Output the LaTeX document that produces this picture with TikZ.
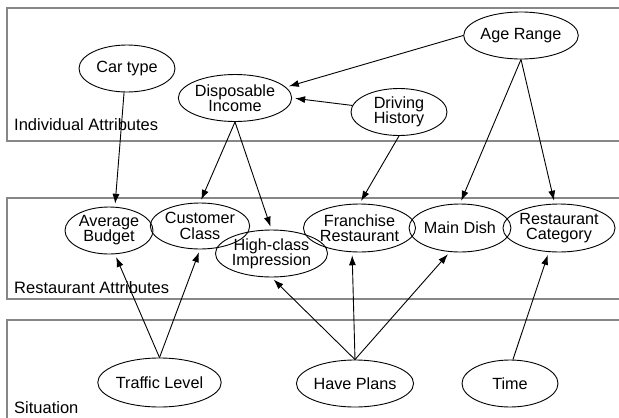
\documentclass[tikz,border=0pt]{standalone}
\usepackage{fontspec}
\setmainfont{Liberation Sans}
\usetikzlibrary{shapes.geometric,arrows.meta}
\begin{document}
\begin{tikzpicture}[x=1pt,y=-1pt,
  panel/.style={draw=black!47,line width=1.8pt},
  var/.style={ellipse,draw=black,line width=0.9pt,inner sep=0pt,align=center,
    minimum width=96pt,minimum height=47pt,font=\fontsize{16.2}{15.2}\selectfont},
  lbl/.style={anchor=west,inner sep=0pt,font=\fontsize{16.5}{15}\selectfont},
  dep/.style={line width=0.9pt,-{Latex[length=10pt,width=7pt]},shorten >=3pt}]
\useasboundingbox (0,0) rectangle (619,418);
\fill[white] (0,0) rectangle (619,418);
% panels
\draw[panel] (7,8) rectangle (630,141);
\draw[panel] (7,198) rectangle (630,299);
\draw[panel] (7,320) rectangle (630,440);
\node[lbl] (lind) at (14,125) {Individual Attributes};
\node[lbl] (lres) at (14,288) {Restaurant Attributes};
\node[lbl] (lsit) at (14,407.5) {Situation};
% individual attributes
\node[var] (cartype) at (127,68.5) {Car type};
\node[var] (dispinc) at (235,98) {Disposable\\Income};
\node[var] (agerange) at (521,35.5) {Age Range};
\node[var] (drivhist) at (399,112) {Driving\\History};
% restaurant attributes
\node[var,minimum width=88pt] (avgbudget) at (109,230.5) {Average\\Budget};
\node[var,minimum width=76pt,minimum height=46pt] (custclass) at (200,226) {Customer\\Class};
\node[var,minimum width=93pt] (highclass) at (271.5,253.5) {High-class\\Impression};
\node[var,minimum height=48pt] (franchise) at (359.5,228) {Franchise\\Restaurant};
\node[var,minimum height=48pt] (maindish) at (460,228) {Main Dish};
\node[var,minimum height=48pt] (restcat) at (559,228) {Restaurant\\Category};
% situation
\node[var,minimum width=97pt,minimum height=49pt] (traffic) at (159.5,382.5) {Traffic Level};
\node[var] (haveplans) at (355,383.5) {Have Plans};
\node[var] (time) at (510,383.5) {Time};
% edges
\draw[dep] (cartype.-97) -- (avgbudget.76);
\draw[dep] (dispinc.south) -- (custclass.north);
\draw[dep] (dispinc.south) -- (highclass.north);
\draw[dep] (agerange.west) -- (dispinc.12);
\draw[dep] (drivhist.172) -- (dispinc.east);
\draw[dep] (drivhist.south) -- (franchise.north);
\draw[dep] (agerange.south) -- (maindish.north);
\draw[dep] (agerange.south) -- (restcat.100);
\draw[dep] (traffic.north) -- (avgbudget.-76);
\draw[dep] (traffic.north) -- (custclass.south);
\draw[dep] (haveplans.north) -- (highclass.south);
\draw[dep] (haveplans.north) -- (franchise.-107);
\draw[dep] (haveplans.north) -- (maindish.-113);
\draw[dep] (time.83) -- (restcat.-113);
\end{tikzpicture}
\end{document}
